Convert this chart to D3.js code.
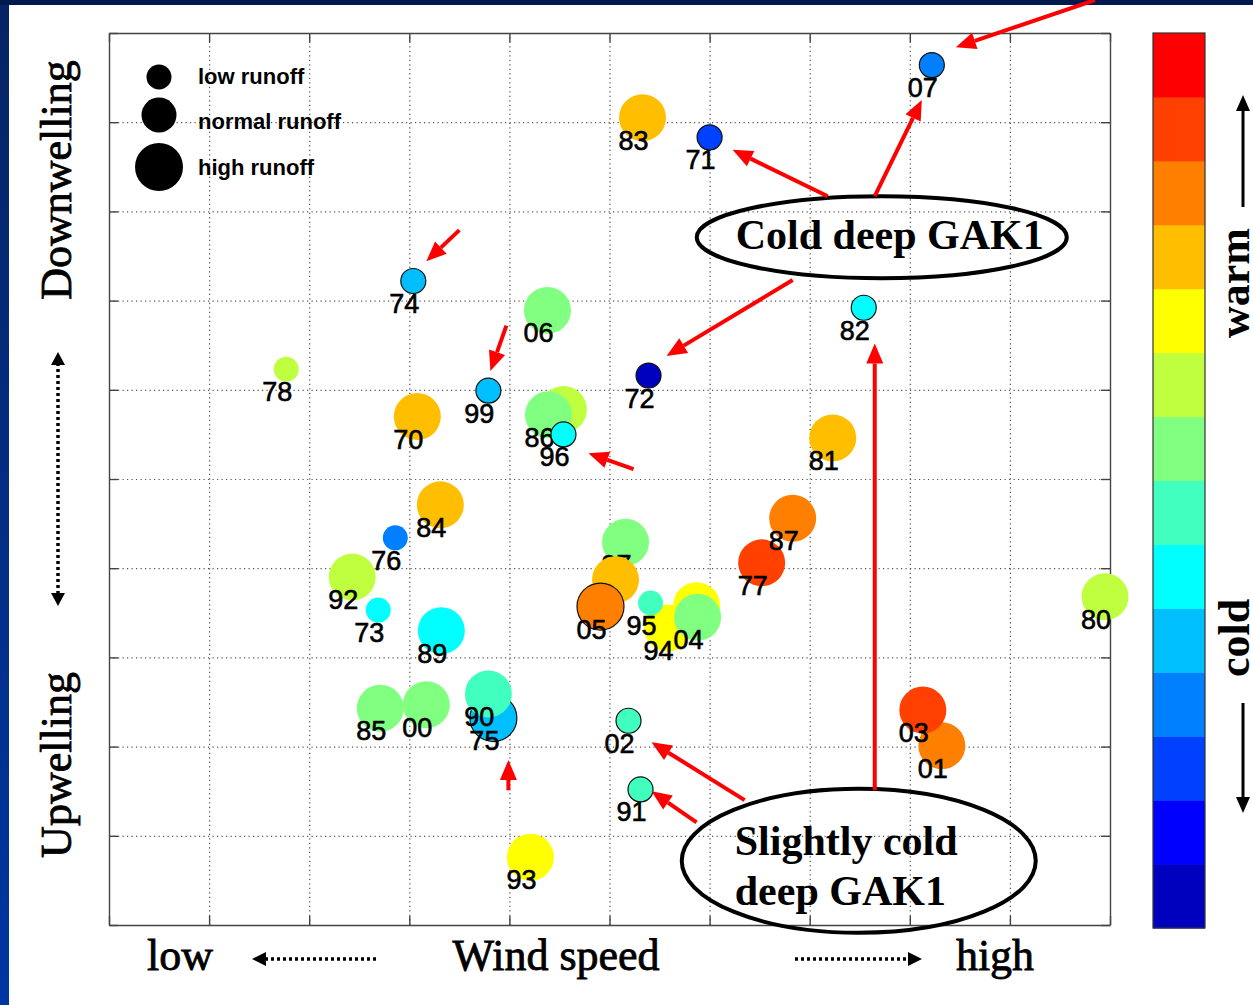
<!DOCTYPE html>
<html><head><meta charset="utf-8">
<script src="https://cdn.jsdelivr.net/npm/d3@7"></script>
<style>html,body{margin:0;padding:0;background:#fff;overflow:hidden}</style>
</head><body>
<svg id="c" width="1253" height="1005"></svg>
<script>
// ---------- data ----------
const years = ["70","71","72","73","74","75","76","77","78","79","80","81","82","83","84","85","86","87","88","89","90","91","92","93","94","95","96","97","98","99","00","01","02","03","04","05","06","07"];
const windSpeed = [3.08,6.00,5.39,2.69,3.04,3.84,2.86,6.52,1.77,4.54,9.95,7.23,7.54,5.33,3.31,2.71,4.39,6.83,5.87,3.32,3.79,5.31,2.43,4.21,5.58,5.41,4.54,5.16,5.06,3.79,3.17,8.32,5.19,8.13,5.88,4.91,4.38,8.22];
const upwelling = [5.70,8.83,6.16,3.53,7.22,2.32,4.34,4.06,6.23,5.78,3.68,5.46,6.92,9.05,4.71,2.43,5.72,4.56,3.58,3.30,2.59,1.52,3.90,0.76,3.33,3.61,5.50,4.29,3.87,5.99,2.47,2.01,2.29,2.41,3.45,3.57,6.89,9.64];
const tempClass = [10,2,0,5,4,4,3,12,8,8,8,10,5,10,10,7,7,11,9,5,6,6,8,9,9,6,5,7,10,4,7,11,6,12,7,11,7,3];
const runoff = ["high","low","low","low","low","high","low","high","low","high","high","high","low","high","high","high","high","high","high","high","high","low","high","high","high","low","low","high","high","low","high","high","low","high","high","high","high","low"];
const highlighted = ["71","72","74","75","82","91","96","99","02","05","07"];
// years whose labels are fully covered by later circles in the original
const hiddenLabels = ["79","88","98"];
const runoffLevels = ["low","normal","high"];
const runoffLabels = ["low runoff","normal runoff","high runoff"];
const jetColors = ["#0000BF","#0000FF","#0040FF","#0080FF","#00BFFF","#00FFFF","#40FFBF","#80FF80","#BFFF40","#FFFF00","#FFBF00","#FF8000","#FF4000","#FF0000"];
const xTicks = [0,1,2,3,4,5,6,7,8,9,10];
const yTicks = [0,1,2,3,4,5,6,7,8,9,10];
// annotation arrows in data units [x0,y0,x1(tip),y1(tip)]
const arrows = [
  [9.85,10.37,8.46,9.84],
  [7.18,8.17,6.23,8.69],
  [7.65,8.17,8.12,9.25],
  [6.83,7.23,5.57,6.38],
  [3.50,7.79,3.17,7.44],
  [3.97,6.72,3.81,6.21],
  [5.24,5.11,4.79,5.29],
  [7.65,1.51,7.65,6.52],
  [3.99,1.51,3.99,1.85],
  [6.35,1.40,5.42,2.05],
  [5.87,1.15,5.42,1.50]
];
const callouts = [
  {cx:7.72, cy:7.71, lines:["Cold deep GAK1"]},
  {cx:7.49, cy:0.72, lines:["Slightly cold","deep GAK1"]}
];

// ---------- drawing ----------
const svg = d3.select("#c");
const W = 1253, H = 1005;
const m = {l:109, r:1110, t:33, b:925};
const x = d3.scaleLinear([0,10],[m.l,m.r]);
const y = d3.scaleLinear([0,10],[m.b,m.t]);
const r = d3.scaleOrdinal(runoffLevels,[12.5,17.5,23.5]);
const color = d3.scaleOrdinal(d3.range(jetColors.length), jetColors);

// frame
const defs = svg.append("defs");
const lg = defs.append("linearGradient").attr("id","lb").attr("x1",0).attr("x2",0).attr("y1",0).attr("y2",1);
lg.append("stop").attr("offset","0").attr("stop-color","#062463");
lg.append("stop").attr("offset","1").attr("stop-color","#0036a2");
svg.append("rect").attr("width",W).attr("height",H).attr("fill","#fff");
svg.append("rect").attr("x",0).attr("y",0).attr("width",9).attr("height",H).attr("fill","url(#lb)");
svg.append("rect").attr("x",0).attr("y",0).attr("width",W).attr("height",5).attr("fill","#001a4f");

// grid
const grid = svg.append("g");
grid.append("g").attr("transform",`translate(0,${m.b})`)
  .call(d3.axisBottom(x).tickValues(xTicks.slice(1,-1)).tickSize(-(m.b-m.t)).tickFormat(""))
  .call(g=>g.select(".domain").remove())
  .call(g=>g.selectAll("line").attr("stroke","#555").attr("stroke-width",1.2).attr("stroke-dasharray","1.2,3.3"));
grid.append("g").attr("transform",`translate(${m.l},0)`)
  .call(d3.axisLeft(y).tickValues(yTicks.slice(1,-1)).tickSize(-(m.r-m.l)).tickFormat(""))
  .call(g=>g.select(".domain").remove())
  .call(g=>g.selectAll("line").attr("stroke","#555").attr("stroke-width",1.2).attr("stroke-dasharray","1.2,3.3"));
// inner ticks on all sides
const tk = 9;
const axes = [
  [d3.axisBottom(x).tickValues(xTicks).tickSize(-tk), `translate(0,${m.b})`],
  [d3.axisTop(x).tickValues(xTicks).tickSize(-tk), `translate(0,${m.t})`],
  [d3.axisLeft(y).tickValues(yTicks).tickSize(-tk), `translate(${m.l},0)`],
  [d3.axisRight(y).tickValues(yTicks).tickSize(-tk), `translate(${m.r},0)`]
];
axes.forEach(([a,t])=>{
  svg.append("g").attr("transform",t).call(a.tickFormat("").tickSizeOuter(0))
    .call(g=>g.select(".domain").attr("stroke","#444").attr("stroke-width",1.4))
    .call(g=>g.selectAll("line").attr("stroke","#444").attr("stroke-width",1.4));
});

// points (chronological order, each circle followed by its label)
const pts = svg.append("g");
years.forEach((yr,i)=>{
  const cx = x(windSpeed[i]), cy = y(upwelling[i]);
  pts.append("circle").attr("cx",cx).attr("cy",cy).attr("r",r(runoff[i]))
    .attr("fill",color(tempClass[i]))
    .attr("stroke",highlighted.includes(yr)?"#111":"none").attr("stroke-width",1.2);
  if (!hiddenLabels.includes(yr)) {
    pts.append("text").attr("x",cx-9).attr("y",cy+32).attr("text-anchor","middle")
      .attr("font-family","Liberation Sans, Arial, sans-serif").attr("font-size",27)
      .attr("fill","#000").attr("stroke","#000").attr("stroke-width",0.6).text(yr);
  }
});

// legend
const lgd = svg.append("g");
const legY = [77,115,167], legT = [84,129,175];
runoffLevels.forEach((lv,i)=>{
  lgd.append("circle").attr("cx",159).attr("cy",legY[i]).attr("r",r(lv)+(lv==="high"?0.5:0)).attr("fill","#000");
  lgd.append("text").attr("x",198).attr("y",legT[i]).attr("font-family","Liberation Sans, Arial, sans-serif")
    .attr("font-weight","bold").attr("font-size",22).attr("fill","#000").text(runoffLabels[i]);
});

// colorbar
const cb = svg.append("g");
const cbY = d3.scaleBand(d3.range(jetColors.length).reverse(),[33,928]);
cb.selectAll("rect").data(d3.range(jetColors.length)).join("rect")
  .attr("x",1153).attr("width",52).attr("y",d=>cbY(d)).attr("height",cbY.bandwidth()+0.5)
  .attr("fill",d=>jetColors[d]);
cb.append("rect").attr("x",1153).attr("y",33).attr("width",52).attr("height",895)
  .attr("fill","none").attr("stroke","#333").attr("stroke-width",1.2);

// helpers
function arrowHead(g,x0,y0,x1,y1,len,hw,fill){
  const a = Math.atan2(y1-y0,x1-x0);
  const bx = x1-len*Math.cos(a), by = y1-len*Math.sin(a);
  const px = -Math.sin(a)*hw, py = Math.cos(a)*hw;
  g.append("path").attr("d",`M${x1},${y1}L${bx+px},${by+py}L${bx-px},${by-py}Z`).attr("fill",fill);
  return [bx,by];
}
const serif = "Liberation Serif, Times New Roman, serif";

// side labels
const side = svg.append("g").attr("font-family",serif).attr("fill","#000");
const heavy = s => s.attr("stroke","#000").attr("stroke-width",0.8);
side.append("text").attr("transform","translate(71,180) rotate(-90)").attr("text-anchor","middle").attr("font-size",44).call(heavy).text("Downwelling");
side.append("text").attr("transform","translate(71,765) rotate(-90)").attr("text-anchor","middle").attr("font-size",44).call(heavy).text("Upwelling");
side.append("text").attr("transform","translate(1249,283) rotate(-90)").attr("text-anchor","middle").attr("font-size",44).attr("font-weight","bold").text("warm");
side.append("text").attr("transform","translate(1249,638) rotate(-90)").attr("text-anchor","middle").attr("font-size",44).attr("font-weight","bold").text("cold");
side.append("text").attr("x",180).attr("y",970).attr("text-anchor","middle").attr("font-size",44).call(heavy).text("low");
side.append("text").attr("x",556).attr("y",970).attr("text-anchor","middle").attr("font-size",44).call(heavy).text("Wind speed");
side.append("text").attr("x",995).attr("y",970).attr("text-anchor","middle").attr("font-size",44).call(heavy).text("high");

// black arrows
const ba = svg.append("g");
ba.append("line").attr("x1",1243).attr("x2",1243).attr("y1",207).attr("y2",108).attr("stroke","#000").attr("stroke-width",3);
arrowHead(ba,1243,207,1243,95,16,7,"#000");
ba.append("line").attr("x1",1243).attr("x2",1243).attr("y1",703).attr("y2",800).attr("stroke","#000").attr("stroke-width",3);
arrowHead(ba,1243,703,1243,813,16,7,"#000");
ba.append("line").attr("x1",58).attr("x2",58).attr("y1",363).attr("y2",594).attr("stroke","#000").attr("stroke-width",3.5).attr("stroke-dasharray","3,3");
arrowHead(ba,58,400,58,352,13,7,"#000");
arrowHead(ba,58,560,58,606,13,7,"#000");
ba.append("line").attr("x1",265).attr("x2",378).attr("y1",959).attr("y2",959).attr("stroke","#000").attr("stroke-width",3.5).attr("stroke-dasharray","3,3");
arrowHead(ba,300,959,252,959,14,7,"#000");
ba.append("line").attr("x1",795).attr("x2",909).attr("y1",959).attr("y2",959).attr("stroke","#000").attr("stroke-width",3.5).attr("stroke-dasharray","3,3");
arrowHead(ba,880,959,922,959,14,7,"#000");

// callout ellipses
const co = svg.append("g");
co.append("ellipse").attr("cx",x(callouts[0].cx)).attr("cy",y(callouts[0].cy)).attr("rx",185).attr("ry",41)
  .attr("fill","none").attr("stroke","#000").attr("stroke-width",4);
co.append("text").attr("x",x(callouts[0].cx)+8).attr("y",y(callouts[0].cy)+12).attr("text-anchor","middle")
  .attr("font-family",serif).attr("font-weight","bold").attr("font-size",42).text(callouts[0].lines[0]);
co.append("ellipse").attr("cx",x(callouts[1].cx)).attr("cy",y(callouts[1].cy)).attr("rx",177).attr("ry",72)
  .attr("fill","none").attr("stroke","#000").attr("stroke-width",4);
callouts[1].lines.forEach((t,i)=>{
  co.append("text").attr("x",x(callouts[1].cx)-124).attr("y",y(callouts[1].cy)-6+i*50)
    .attr("font-family",serif).attr("font-weight","bold").attr("font-size",42).text(t);
});

// red arrows
const ra = svg.append("g");
arrows.forEach(([a0,b0,a1,b1])=>{
  const X0=x(a0),Y0=y(b0),X1=x(a1),Y1=y(b1);
  const g = ra.append("g");
  const [bx,by] = arrowHead(g,X0,Y0,X1,Y1,20,8.5,"#ff0000");
  g.insert("line",":first-child").attr("x1",X0).attr("y1",Y0).attr("x2",bx).attr("y2",by)
    .attr("stroke","#ff0000").attr("stroke-width",4);
});
</script>
</body></html>
